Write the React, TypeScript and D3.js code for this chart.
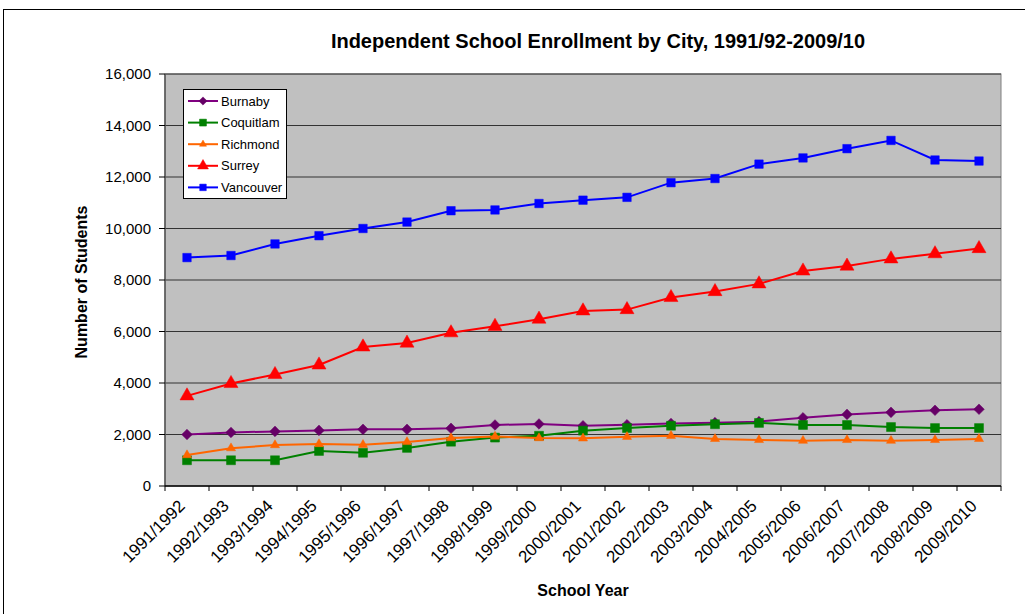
import React from "react";
import * as d3 from "d3";

const years = [
  "1991/1992", "1992/1993", "1993/1994", "1994/1995", "1995/1996", "1996/1997",
  "1997/1998", "1998/1999", "1999/2000", "2000/2001", "2001/2002", "2002/2003",
  "2003/2004", "2004/2005", "2005/2006", "2006/2007", "2007/2008", "2008/2009", "2009/2010",
];
const burnaby = [2000, 2080, 2120, 2160, 2200, 2200, 2240, 2370, 2410, 2340, 2380, 2430, 2460, 2500, 2650, 2780, 2860, 2940, 2980];
const coquitlam = [1000, 1000, 1000, 1360, 1290, 1480, 1720, 1880, 1950, 2150, 2250, 2340, 2400, 2450, 2370, 2370, 2290, 2250, 2250];
const richmond = [1200, 1470, 1590, 1630, 1600, 1710, 1860, 1920, 1860, 1850, 1910, 1950, 1830, 1790, 1760, 1790, 1760, 1790, 1830];
const surrey = [3500, 3980, 4330, 4700, 5400, 5550, 5950, 6200, 6480, 6800, 6850, 7320, 7550, 7850, 8350, 8540, 8820, 9020, 9220];
const vancouver = [8870, 8950, 9400, 9720, 10000, 10250, 10690, 10720, 10970, 11100, 11210, 11780, 11940, 12500, 12740, 13100, 13420, 12660, 12620];
const yTicks = [0, 2000, 4000, 6000, 8000, 10000, 12000, 14000, 16000];

type Series = { name: string; values: number[]; color: string; marker: string; markerColor: string; size: number };
const series: Series[] = [
  { name: "Burnaby", values: burnaby, color: "#800080", marker: "diamond", markerColor: "#660066", size: 56 },
  { name: "Coquitlam", values: coquitlam, color: "#008000", marker: "square", markerColor: "#008000", size: 80 },
  { name: "Richmond", values: richmond, color: "#FF6600", marker: "triangle", markerColor: "#FF6600", size: 36 },
  { name: "Surrey", values: surrey, color: "#FF0000", marker: "triangle", markerColor: "#FF0000", size: 85 },
  { name: "Vancouver", values: vancouver, color: "#0000FF", marker: "square", markerColor: "#0000FF", size: 72 },
];

const W = 1025, H = 614;
const L = 165, R = 1001, T = 74, B = 486;
const FONT = "Arial, 'Liberation Sans', sans-serif";

function symbolPath(marker: string, size: number) {
  if (marker === "diamond" || marker === "square") return d3.symbol(d3.symbolSquare, size)()!;
  return d3.symbol(d3.symbolTriangle, size)()!;
}

export default function App() {
  const x = d3.scaleBand<string>().domain(years).range([L, R]);
  const y = d3.scaleLinear().domain([0, 16000]).range([B, T]);
  const cx = (i: number) => x(years[i])! + x.bandwidth() / 2;
  const line = d3.line<number>().x((_, i) => cx(i)).y((v) => y(v));
  const fmt = d3.format(",");

  const markerEl = (s: Series, px: number, py: number, key: string | number) => {
    const p = symbolPath(s.marker, s.size);
    const rot = s.marker === "diamond" ? 45 : 0;
    return <path key={key} d={p} transform={`translate(${px},${py}) rotate(${rot})`} fill={s.markerColor} stroke={s.markerColor} strokeWidth={0.5} />;
  };

  const legX = 183, legY = 89, legW = 103, legH = 109;

  return (
    <div style={{ position: "absolute", left: 0, top: 0 }}>
      <svg width={W} height={H} style={{ display: "block", fontFamily: FONT }}>
        <rect x={0} y={0} width={W} height={H} fill="#fff" />
        <rect x={3.5} y={9.5} width={W + 20} height={H + 20} fill="#fff" stroke="#000" strokeWidth={1} />
        <text x={598} y={48} textAnchor="middle" fontSize={20} fontWeight="bold" fill="#000">
          Independent School Enrollment by City, 1991/92-2009/10
        </text>
        {/* plot area */}
        <rect x={L} y={T} width={R - L} height={B - T} fill="#C0C0C0" stroke="#808080" strokeWidth={1} />
        {yTicks.slice(1).map((v) => (
          <line key={"g" + v} x1={L} x2={R} y1={y(v)} y2={y(v)} stroke="#333" strokeWidth={1} />
        ))}
        {/* axes */}
        <line x1={L} x2={L} y1={T} y2={B} stroke="#555" strokeWidth={1.5} />
        <line x1={L} x2={R} y1={B} y2={B} stroke="#000" strokeWidth={1.5} />
        {yTicks.map((v) => (
          <g key={"yt" + v}>
            <line x1={L - 6} x2={L} y1={y(v)} y2={y(v)} stroke="#000" />
            <text x={L - 14} y={y(v)} dy="0.35em" textAnchor="end" fontSize={15} fill="#000">{fmt(v)}</text>
          </g>
        ))}
        {years.map((yr, i) => (
          <line key={"xt" + i} x1={x(yr)!} x2={x(yr)!} y1={B} y2={B + 5} stroke="#000" />
        ))}
        <line x1={R} x2={R} y1={B} y2={B + 5} stroke="#000" />
        {years.map((yr, i) => (
          <text key={"xl" + i} transform={`translate(${cx(i) - 1},${B + 21}) rotate(-45)`} textAnchor="end" fontSize={17} fill="#000">{yr}</text>
        ))}
        <text transform={`translate(87,282) rotate(-90)`} textAnchor="middle" fontSize={16} fontWeight="bold" fill="#000">Number of Students</text>
        <text x={583} y={596} textAnchor="middle" fontSize={16} fontWeight="bold" fill="#000">School Year</text>
        {/* series */}
        {series.map((s) => (
          <g key={s.name}>
            <path d={line(s.values)!} fill="none" stroke={s.color} strokeWidth={2} />
            {s.values.map((v, i) => markerEl(s, cx(i), y(v), i))}
          </g>
        ))}
        {/* legend */}
        <rect x={legX + 0.5} y={legY + 0.5} width={legW} height={legH} fill="#fff" stroke="#000" strokeWidth={1} />
        {series.map((s, i) => {
          const ly = legY + 12 + i * 21.6;
          return (
            <g key={"leg" + s.name}>
              <line x1={legX + 5} x2={legX + 35} y1={ly} y2={ly} stroke={s.color} strokeWidth={2} />
              {markerEl({ ...s, size: s.size * 0.6 }, legX + 20, ly, "m")}
              <text x={legX + 38} y={ly} dy="0.35em" fontSize={13} fill="#000">{s.name}</text>
            </g>
          );
        })}
      </svg>
    </div>
  );
}
